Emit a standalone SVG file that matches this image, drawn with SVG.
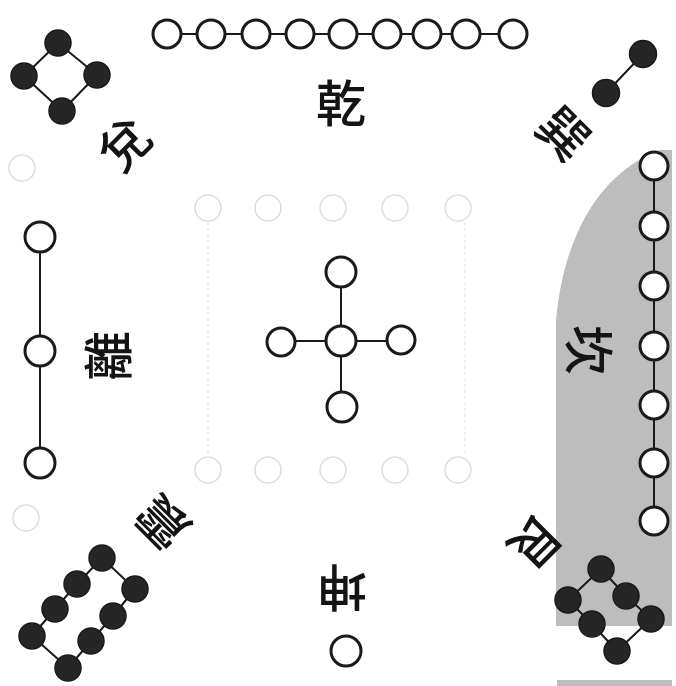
<svg xmlns="http://www.w3.org/2000/svg" width="676" height="686" viewBox="0 0 676 686">
<style>
.w{fill:#fff;stroke:#1a1a1a;stroke-width:3}
.b{fill:#262626;stroke:#1a1a1a;stroke-width:1.5}
.ln{stroke:#1a1a1a;stroke-width:2;fill:none}
.g{fill:none;stroke:#dedede;stroke-width:1.6}
.gl{stroke:#e4e4e4;stroke-width:1.2;stroke-dasharray:3 3;fill:none}
.t{font-family:"Noto Sans CJK TC","Noto Sans CJK SC",sans-serif;font-size:50px;font-weight:500;fill:#141414;text-anchor:middle;dominant-baseline:central}
</style>
<rect width="676" height="686" fill="#fff"/>
<g id="shade" fill="#bdbdbd">
<path d="M672,150 L660,150 C618,165 566,212 556,320 L556,626 L672,626 Z"/>
<rect x="557" y="680" width="115" height="6"/>
</g>
<g id="ghost">
<line class="gl" x1="208" y1="222" x2="208" y2="456"/>
<line class="gl" x1="465" y1="222" x2="465" y2="456"/>
<circle class="g" cx="208" cy="208" r="13"/><circle class="g" cx="268" cy="208" r="13"/><circle class="g" cx="333" cy="208" r="13"/><circle class="g" cx="395" cy="208" r="13"/><circle class="g" cx="458" cy="208" r="13"/>
<circle class="g" cx="208" cy="470" r="13"/><circle class="g" cx="268" cy="470" r="13"/><circle class="g" cx="333" cy="470" r="13"/><circle class="g" cx="395" cy="470" r="13"/><circle class="g" cx="458" cy="470" r="13"/>
<circle class="g" cx="22" cy="168" r="13"/><circle class="g" cx="26" cy="518" r="13"/>
</g>
<g id="connectors">
<line class="ln" x1="167" y1="34" x2="513" y2="34"/>
<polyline class="ln" points="58,43 97,75 62,111 24,76 58,43"/>
<line class="ln" x1="643" y1="54" x2="606" y2="93"/>
<line class="ln" x1="40" y1="237" x2="40" y2="463"/>
<line class="ln" x1="341" y1="272" x2="341" y2="407"/>
<line class="ln" x1="281" y1="341" x2="401" y2="341"/>
<line class="ln" x1="654" y1="166" x2="654" y2="521"/>
<polyline class="ln" points="601,569 626,596 651,619 617,651 592,624 568,600 601,569"/>
<polyline class="ln" points="102,558 77,584 55,609 32,636 68,668 91,641 113,616 135,589 102,558"/>
</g>
<g id="qian">
<circle class="w" cx="167" cy="34" r="14"/><circle class="w" cx="211" cy="34" r="14"/><circle class="w" cx="256" cy="34" r="14"/><circle class="w" cx="300" cy="34" r="14"/><circle class="w" cx="343" cy="34" r="14"/><circle class="w" cx="387" cy="34" r="14"/><circle class="w" cx="427" cy="34" r="14"/><circle class="w" cx="466" cy="34" r="14"/><circle class="w" cx="513" cy="34" r="14"/>
<text class="t" transform="translate(341,100)">乾</text>
</g>
<g id="dui">
<circle class="b" cx="58" cy="43" r="13"/><circle class="b" cx="97" cy="75" r="13"/><circle class="b" cx="62" cy="111" r="13"/><circle class="b" cx="24" cy="76" r="13"/>
<text class="t" transform="translate(122,142) rotate(-45)">兌</text>
</g>
<g id="xun">
<circle class="b" cx="643" cy="54" r="13.5"/><circle class="b" cx="606" cy="93" r="13.5"/>
<text class="t" transform="translate(566,131) rotate(45)">巽</text>
</g>
<g id="li">
<circle class="w" cx="40" cy="237" r="15"/><circle class="w" cx="40" cy="351" r="15"/><circle class="w" cx="40" cy="463" r="15"/>
<text class="t" transform="translate(105,356) rotate(-90)">離</text>
</g>
<g id="center">
<circle class="w" cx="341" cy="341" r="15"/><circle class="w" cx="341" cy="272" r="15"/><circle class="w" cx="281" cy="342" r="14"/><circle class="w" cx="401" cy="340" r="14"/><circle class="w" cx="342" cy="407" r="15"/>
</g>
<g id="kan">
<circle class="w" cx="654" cy="166" r="14"/><circle class="w" cx="654" cy="226" r="14"/><circle class="w" cx="654" cy="286" r="14"/><circle class="w" cx="654" cy="346" r="14"/><circle class="w" cx="654" cy="405" r="14"/><circle class="w" cx="654" cy="463" r="14"/><circle class="w" cx="654" cy="521" r="14"/>
<text class="t" transform="translate(592,350) rotate(90)">坎</text>
</g>
<g id="gen">
<circle class="b" cx="601" cy="569" r="13"/><circle class="b" cx="626" cy="596" r="13"/><circle class="b" cx="651" cy="619" r="13"/><circle class="b" cx="617" cy="651" r="13"/><circle class="b" cx="592" cy="624" r="13"/><circle class="b" cx="568" cy="600" r="13"/>
<text class="t" transform="translate(538,545) rotate(135)">艮</text>
</g>
<g id="kun">
<circle class="w" cx="346" cy="651" r="15"/>
<text class="t" transform="translate(342,591) rotate(180)">坤</text>
</g>
<g id="zhen">
<circle class="b" cx="102" cy="558" r="13"/><circle class="b" cx="77" cy="584" r="13"/><circle class="b" cx="55" cy="609" r="13"/><circle class="b" cx="32" cy="636" r="13"/><circle class="b" cx="68" cy="668" r="13"/><circle class="b" cx="91" cy="641" r="13"/><circle class="b" cx="113" cy="616" r="13"/><circle class="b" cx="135" cy="589" r="13"/>
<text class="t" transform="translate(160,525) rotate(225)">震</text>
</g>
</svg>
